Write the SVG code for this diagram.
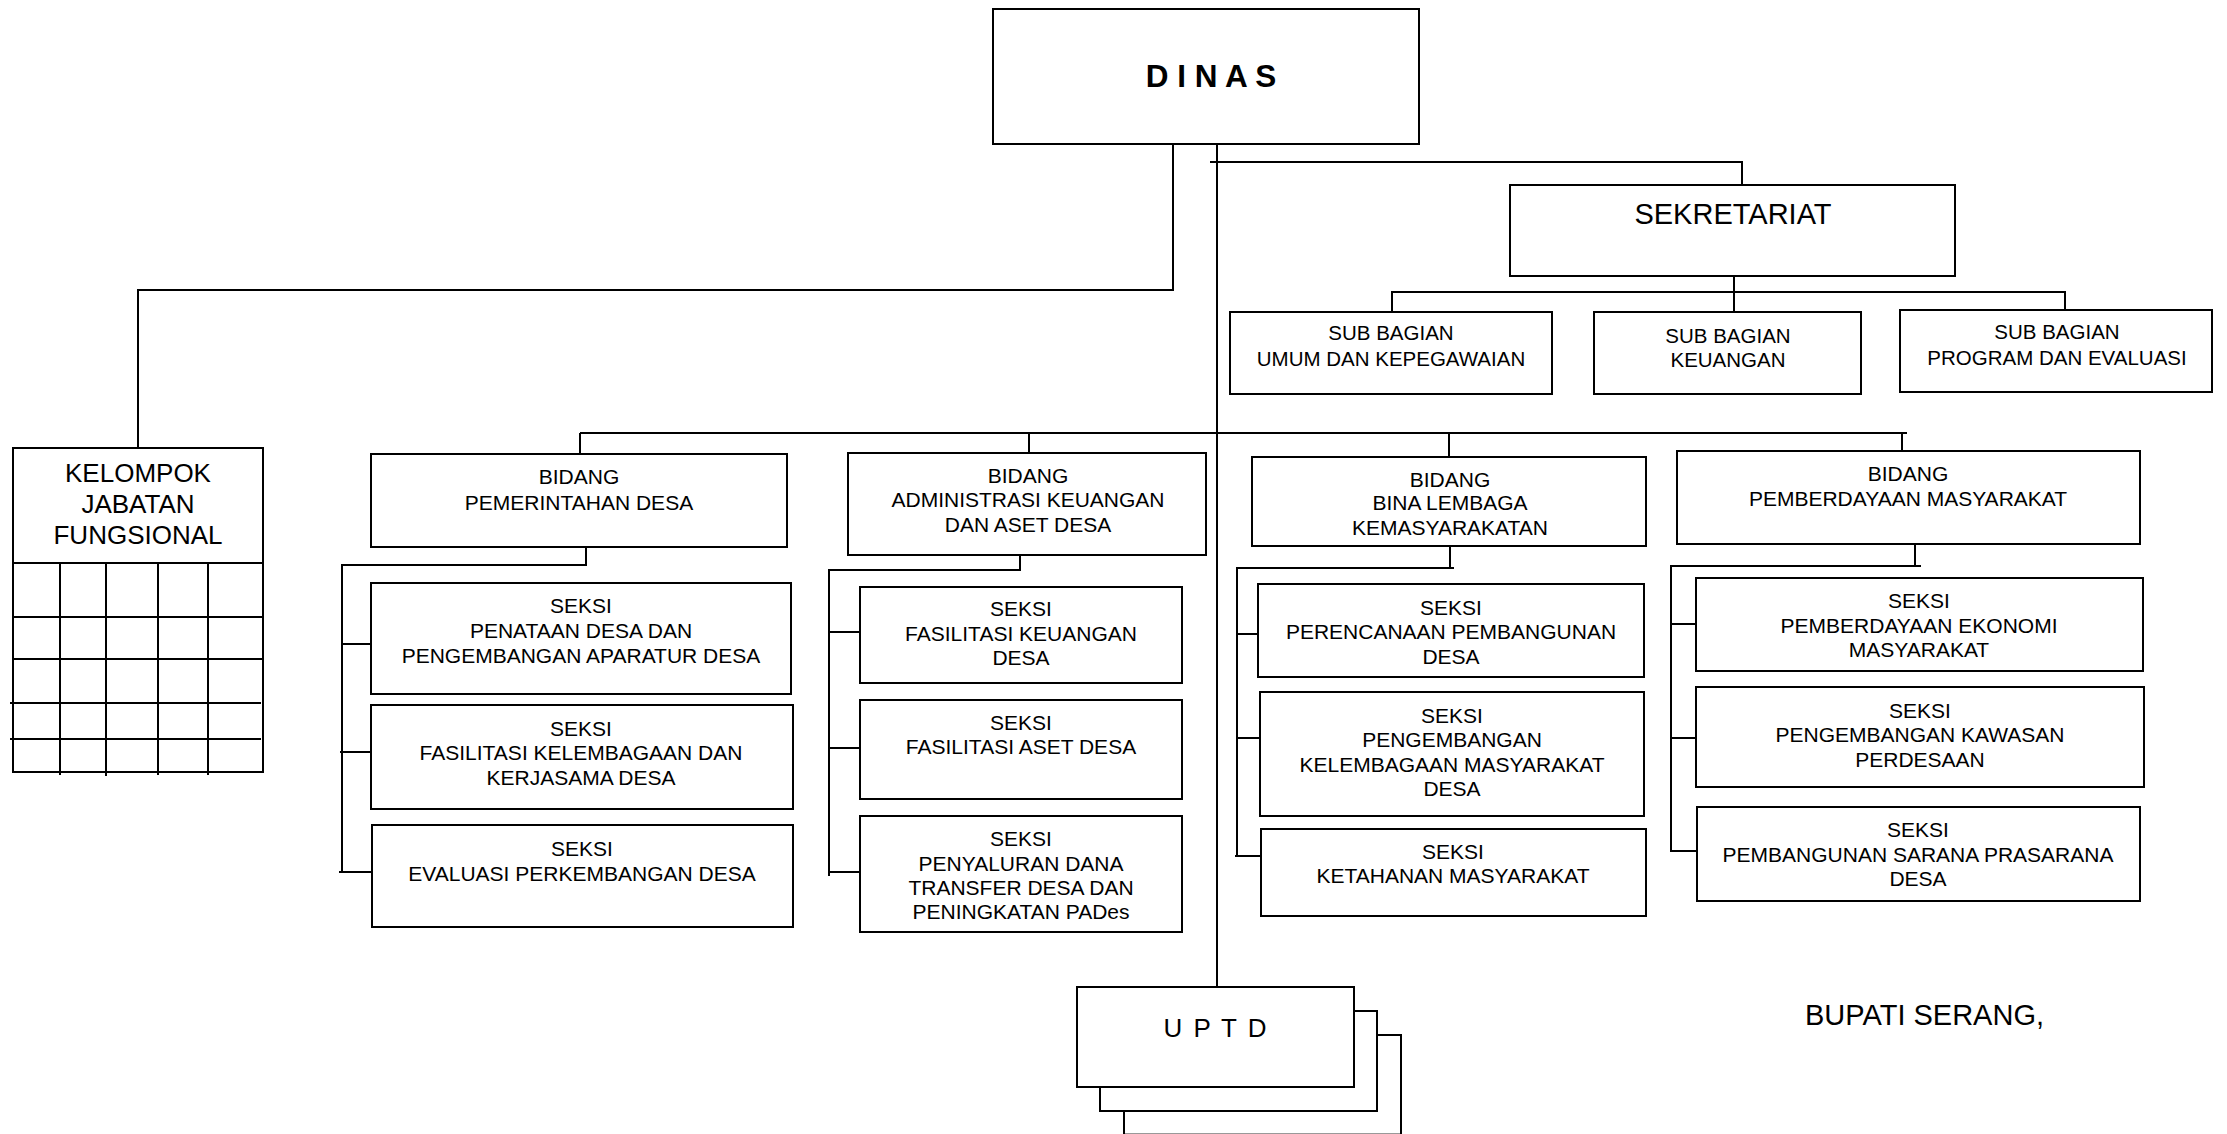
<svg xmlns="http://www.w3.org/2000/svg" width="2227" height="1134" viewBox="0 0 2227 1134">
<style>
.box{fill:#fff;stroke:#000;stroke-width:2}
.ln{fill:none;stroke:#000;stroke-width:2}
text{font-family:"Liberation Sans",Arial,sans-serif;fill:#000;text-anchor:middle}
.t{font-size:21px}
.s{font-size:20.5px}
</style>
<rect width="2227" height="1134" fill="#fff"/>
<g id="connectors">
<polyline class="ln" points="1173,144 1173,290 138,290 138,448"/>
<line class="ln" x1="1217" y1="144" x2="1217" y2="987"/>
<polyline class="ln" points="1210,162 1742,162 1742,185"/>
<line class="ln" x1="1734" y1="276" x2="1734" y2="312"/>
<polyline class="ln" points="1392,312 1392,292 2065,292 2065,310"/>
<line class="ln" x1="580" y1="433" x2="1907" y2="433"/>
<line class="ln" x1="580" y1="433" x2="580" y2="454"/>
<line class="ln" x1="1029" y1="433" x2="1029" y2="453"/>
<line class="ln" x1="1449" y1="433" x2="1449" y2="457"/>
<line class="ln" x1="1902" y1="433" x2="1902" y2="451"/>
<polyline class="ln" points="586,536 586,565 342,565 342,871"/>
<line class="ln" x1="342" y1="644" x2="371" y2="644"/>
<line class="ln" x1="340" y1="752" x2="371" y2="752"/>
<line class="ln" x1="339" y1="872" x2="372" y2="872"/>
<polyline class="ln" points="1020,556 1020,570 829,570 829,876"/>
<line class="ln" x1="828" y1="632" x2="860" y2="632"/>
<line class="ln" x1="829" y1="748" x2="860" y2="748"/>
<line class="ln" x1="829" y1="872" x2="860" y2="872"/>
<polyline class="ln" points="1450,547 1450,568 1237,568 1237,856"/>
<line class="ln" x1="1450" y1="568" x2="1454" y2="568"/>
<line class="ln" x1="1236" y1="634" x2="1258" y2="634"/>
<line class="ln" x1="1237" y1="738" x2="1260" y2="738"/>
<line class="ln" x1="1235" y1="856" x2="1261" y2="856"/>
<polyline class="ln" points="1915,534 1915,566 1671,566 1671,852"/>
<line class="ln" x1="1915" y1="566" x2="1921" y2="566"/>
<line class="ln" x1="1671" y1="624" x2="1696" y2="624"/>
<line class="ln" x1="1671" y1="738" x2="1696" y2="738"/>
<line class="ln" x1="1671" y1="851" x2="1697" y2="851"/>
</g>
<g id="dinas">
<rect class="box" x="993" y="9" width="426" height="135"/>
<text x="1211" y="87" style="font-size:31.5px;font-weight:bold">D I N A S</text>
</g>
<g id="sekretariat">
<rect class="box" x="1510" y="185" width="445" height="91"/>
<text x="1733" y="224" style="font-size:29px">SEKRETARIAT</text>
</g>
<g id="sub-umum">
<rect class="box" x="1230" y="312" width="322" height="82"/>
<text class="s" x="1391" y="340">SUB BAGIAN</text>
<text class="s" x="1391" y="366">UMUM DAN KEPEGAWAIAN</text>
</g>
<g id="sub-keuangan">
<rect class="box" x="1594" y="312" width="267" height="82"/>
<text class="s" x="1728" y="343">SUB BAGIAN</text>
<text class="s" x="1728" y="367">KEUANGAN</text>
</g>
<g id="sub-program">
<rect class="box" x="1900" y="310" width="312" height="82"/>
<text class="s" x="2057" y="339">SUB BAGIAN</text>
<text class="s" x="2057" y="365">PROGRAM DAN EVALUASI</text>
</g>
<g id="kelompok">
<rect class="box" x="13" y="448" width="250" height="324"/>
<text x="138" y="482" style="font-size:26px">KELOMPOK</text>
<text x="138" y="513" style="font-size:26px">JABATAN</text>
<text x="138" y="544" style="font-size:26px">FUNGSIONAL</text>
<line class="ln" x1="13" y1="563" x2="263" y2="563"/>
<line class="ln" x1="13" y1="617" x2="263" y2="617"/>
<line class="ln" x1="13" y1="659" x2="263" y2="659"/>
<line class="ln" x1="10" y1="703" x2="261" y2="703"/>
<line class="ln" x1="10" y1="739" x2="261" y2="739"/>
<line class="ln" x1="60" y1="563" x2="60" y2="775"/>
<line class="ln" x1="106" y1="563" x2="106" y2="776"/>
<line class="ln" x1="158" y1="563" x2="158" y2="775"/>
<line class="ln" x1="208" y1="563" x2="208" y2="775"/>
</g>
<g id="bidang-pemerintahan">
<rect class="box" x="371" y="454" width="416" height="93"/>
<text class="t" x="579" y="484">BIDANG</text>
<text class="t" x="579" y="510">PEMERINTAHAN DESA</text>
</g>
<g id="seksi-penataan">
<rect class="box" x="371" y="583" width="420" height="111"/>
<text class="t" x="581" y="613">SEKSI</text>
<text class="t" x="581" y="638">PENATAAN DESA DAN</text>
<text class="t" x="581" y="663">PENGEMBANGAN APARATUR DESA</text>
</g>
<g id="seksi-kelembagaan">
<rect class="box" x="371" y="705" width="422" height="104"/>
<text class="t" x="581" y="736">SEKSI</text>
<text class="t" x="581" y="760">FASILITASI KELEMBAGAAN DAN</text>
<text class="t" x="581" y="785">KERJASAMA DESA</text>
</g>
<g id="seksi-evaluasi">
<rect class="box" x="372" y="825" width="421" height="102"/>
<text class="t" x="582" y="856">SEKSI</text>
<text class="t" x="582" y="881">EVALUASI PERKEMBANGAN DESA</text>
</g>
<g id="bidang-administrasi">
<rect class="box" x="848" y="453" width="358" height="102"/>
<text class="t" x="1028" y="483">BIDANG</text>
<text class="t" x="1028" y="507">ADMINISTRASI KEUANGAN</text>
<text class="t" x="1028" y="532">DAN ASET DESA</text>
</g>
<g id="seksi-keuangan">
<rect class="box" x="860" y="587" width="322" height="96"/>
<text class="t" x="1021" y="616">SEKSI</text>
<text class="t" x="1021" y="641">FASILITASI KEUANGAN</text>
<text class="t" x="1021" y="665">DESA</text>
</g>
<g id="seksi-aset">
<rect class="box" x="860" y="700" width="322" height="99"/>
<text class="t" x="1021" y="730">SEKSI</text>
<text class="t" x="1021" y="754">FASILITASI ASET DESA</text>
</g>
<g id="seksi-penyaluran">
<rect class="box" x="860" y="816" width="322" height="116"/>
<text class="t" x="1021" y="846">SEKSI</text>
<text class="t" x="1021" y="871">PENYALURAN DANA</text>
<text class="t" x="1021" y="895">TRANSFER DESA DAN</text>
<text class="t" x="1021" y="919">PENINGKATAN PADes</text>
</g>
<g id="bidang-bina">
<rect class="box" x="1252" y="457" width="394" height="89"/>
<text class="t" x="1450" y="487">BIDANG</text>
<text class="t" x="1450" y="510">BINA LEMBAGA</text>
<text class="t" x="1450" y="535">KEMASYARAKATAN</text>
</g>
<g id="seksi-perencanaan">
<rect class="box" x="1258" y="584" width="386" height="93"/>
<text class="t" x="1451" y="615">SEKSI</text>
<text class="t" x="1451" y="639">PERENCANAAN PEMBANGUNAN</text>
<text class="t" x="1451" y="664">DESA</text>
</g>
<g id="seksi-pengembangan">
<rect class="box" x="1260" y="692" width="384" height="124"/>
<text class="t" x="1452" y="723">SEKSI</text>
<text class="t" x="1452" y="747">PENGEMBANGAN</text>
<text class="t" x="1452" y="772">KELEMBAGAAN MASYARAKAT</text>
<text class="t" x="1452" y="796">DESA</text>
</g>
<g id="seksi-ketahanan">
<rect class="box" x="1261" y="829" width="385" height="87"/>
<text class="t" x="1453" y="859">SEKSI</text>
<text class="t" x="1453" y="883">KETAHANAN MASYARAKAT</text>
</g>
<g id="bidang-pemberdayaan">
<rect class="box" x="1677" y="451" width="463" height="93"/>
<text class="t" x="1908" y="481">BIDANG</text>
<text class="t" x="1908" y="506">PEMBERDAYAAN MASYARAKAT</text>
</g>
<g id="seksi-ekonomi">
<rect class="box" x="1696" y="578" width="447" height="93"/>
<text class="t" x="1919" y="608">SEKSI</text>
<text class="t" x="1919" y="633">PEMBERDAYAAN EKONOMI</text>
<text class="t" x="1919" y="657">MASYARAKAT</text>
</g>
<g id="seksi-kawasan">
<rect class="box" x="1696" y="687" width="448" height="100"/>
<text class="t" x="1920" y="718">SEKSI</text>
<text class="t" x="1920" y="742">PENGEMBANGAN KAWASAN</text>
<text class="t" x="1920" y="767">PERDESAAN</text>
</g>
<g id="seksi-sarana">
<rect class="box" x="1697" y="807" width="443" height="94"/>
<text class="t" x="1918" y="837">SEKSI</text>
<text class="t" x="1918" y="862">PEMBANGUNAN SARANA PRASARANA</text>
<text class="t" x="1918" y="886">DESA</text>
</g>
<g id="uptd">
<rect class="box" x="1124" y="1035" width="277" height="99" style="stroke:#999"/>
<polyline class="ln" points="1124,1111 1124,1134"/>
<polyline class="ln" points="1377,1035 1401,1035 1401,1134"/>
<rect class="box" x="1100" y="1011" width="277" height="100"/>
<rect class="box" x="1077" y="987" width="277" height="100"/>
<text x="1216" y="1037" style="font-size:26px;letter-spacing:2px">U P T D</text>
</g>
<g id="bupati">
<text x="1805" y="1025" style="font-size:29px;text-anchor:start">BUPATI SERANG,</text>
</g>
</svg>
